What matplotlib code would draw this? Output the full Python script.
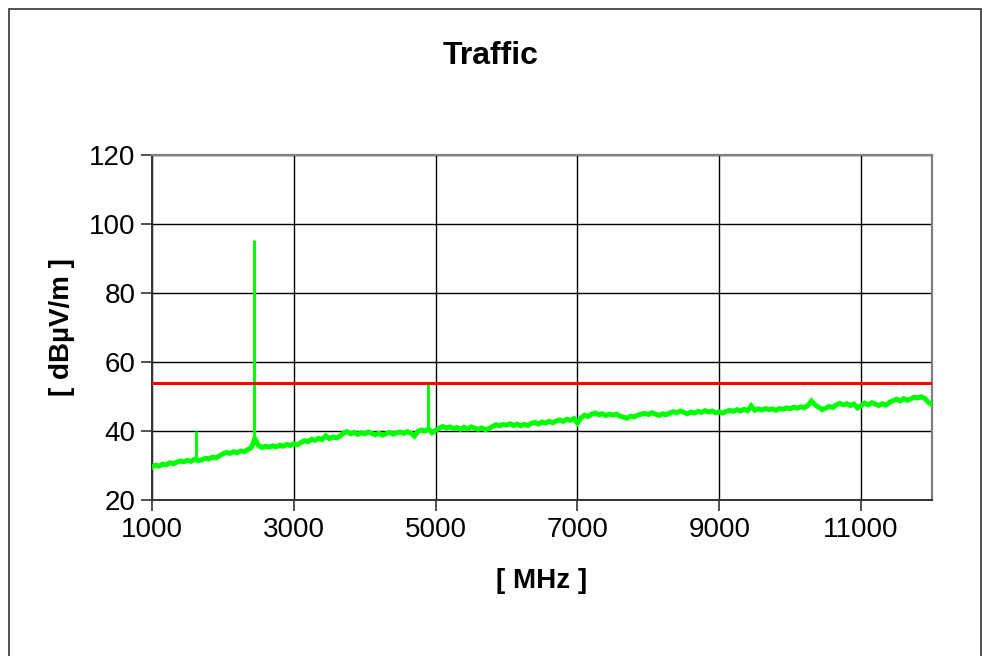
import numpy as np
import matplotlib.pyplot as plt
from matplotlib.patches import Rectangle

plt.rcParams['font.family'] = ['Liberation Sans', 'DejaVu Sans']

# Sweep frequencies (MHz), 50 MHz steps
freq = np.arange(1000, 12001, 50)

# Measured field strength (dBuV/m)
level = [
    29.5, 30.1, 29.8, 30.4, 30.2, 30.8, 30.5, 31.0, 31.3, 31.1,
    31.5, 31.2, 31.8, 31.4, 31.6, 32.1, 31.9, 32.4, 32.2, 32.8,
    33.4, 33.8, 33.5, 34.0, 33.7, 34.2, 34.0, 34.6, 35.2, 37.8,
    35.8, 35.2, 35.6, 35.3, 35.7, 35.4, 35.9, 35.6, 36.1, 35.8,
    36.3, 36.0, 36.7, 37.2, 36.9, 37.6, 37.3, 37.9, 37.5, 38.6,
    37.8, 38.3, 38.0, 38.5, 39.4, 39.8, 39.2, 39.6, 39.0, 39.5,
    39.2, 39.7, 39.3, 38.9, 39.4, 38.8, 39.2, 39.6, 39.1, 39.5,
    39.7, 39.3, 39.8, 39.4, 38.5, 39.9, 40.3, 40.0, 40.6, 39.5,
    40.2, 40.8, 41.3, 40.9, 41.2, 40.7, 41.0, 40.5, 41.1, 40.6,
    41.2, 40.8, 40.5, 40.9, 40.4, 40.7, 41.3, 41.8, 41.5, 41.9,
    41.7, 42.1, 41.6, 42.0, 41.5, 41.9, 41.6, 42.2, 42.5, 42.0,
    42.6, 42.3, 42.8, 42.4, 42.9, 43.2, 42.8, 43.4, 43.1, 43.6,
    42.3, 43.8, 44.6, 44.2, 44.9, 45.2, 44.7, 45.0, 44.5, 44.9,
    44.6, 44.9, 44.3, 44.0, 43.7, 44.3, 44.1, 44.6, 44.9, 45.1,
    44.8, 45.3, 44.9, 44.5, 45.0, 44.7, 45.2, 45.6, 45.3, 45.8,
    45.4, 45.0, 45.5, 45.2, 45.7, 45.4, 45.9, 45.5, 45.8, 45.3,
    45.5, 45.2, 45.7, 46.0, 45.7, 46.2, 45.8, 46.3, 45.9, 47.3,
    46.0, 46.4, 46.1, 46.5, 46.2, 46.4, 46.0, 46.5, 46.3, 46.7,
    46.5, 46.9, 46.6, 47.0, 46.8, 47.4, 48.7, 47.6, 46.9, 46.2,
    46.6, 47.1, 46.8, 47.6, 48.0, 47.6, 47.9, 47.4, 47.8, 46.7,
    47.3, 48.1, 47.6, 48.2, 47.8, 47.4, 47.9, 47.5, 48.3, 48.8,
    49.2, 48.7, 49.4, 48.9, 49.3, 49.8, 49.6, 49.9, 49.4, 48.3,
    47.6,
]

# Narrowband emissions: frequency, floor level, peak level
spike_freq = [1620, 2440, 4890]
spike_base = [31.5, 37.0, 40.0]
spike_peak = [40.0, 95.5, 53.5]

limit = 54.0

fig = plt.figure(figsize=(9.82, 6.56), dpi=100)
ax = fig.add_axes([0.1548, 0.2378, 0.7943, 0.5259])

ax.plot(freq, level, color='#00ff00', lw=3.6, solid_joinstyle='miter', zorder=3)
ax.vlines(spike_freq, spike_base, spike_peak, color='#00ff00', lw=2.2, zorder=3)
ax.axhline(limit, color='#ff0000', lw=2.2, zorder=4)

ax.set_xlim(1000, 12000)
ax.set_ylim(20, 120)
ax.set_xticks(np.arange(1000, 12001, 2000))
ax.set_yticks(np.arange(20, 121, 20))
ax.grid(True, color='black', lw=1.0)
ax.set_axisbelow(True)

ax.tick_params(direction='out', length=8, width=1.2, labelsize=20, pad=4, color='#333333')
for side in ['left', 'bottom']:
    ax.spines[side].set_color('#333333')
    ax.spines[side].set_linewidth(1.4)
for side in ['top', 'right']:
    ax.spines[side].set_color('#808080')
    ax.spines[side].set_linewidth(1.6)

ax.set_xlabel('[ MHz ]', fontsize=20, fontweight='bold', labelpad=18)
ax.set_ylabel('[ dBµV/m ]', fontsize=20, fontweight='bold', labelpad=10)
fig.text(0.5, 0.915, 'Traffic', ha='center', va='center', fontsize=23, fontweight='bold')

# Chart border
fig.patches.append(Rectangle((9 / 982, -0.05), 972 / 982, 1.05 - 9 / 656,
                             transform=fig.transFigure, fill=False,
                             edgecolor='#333333', lw=1.2))

fig.savefig('out.png', dpi=100)
